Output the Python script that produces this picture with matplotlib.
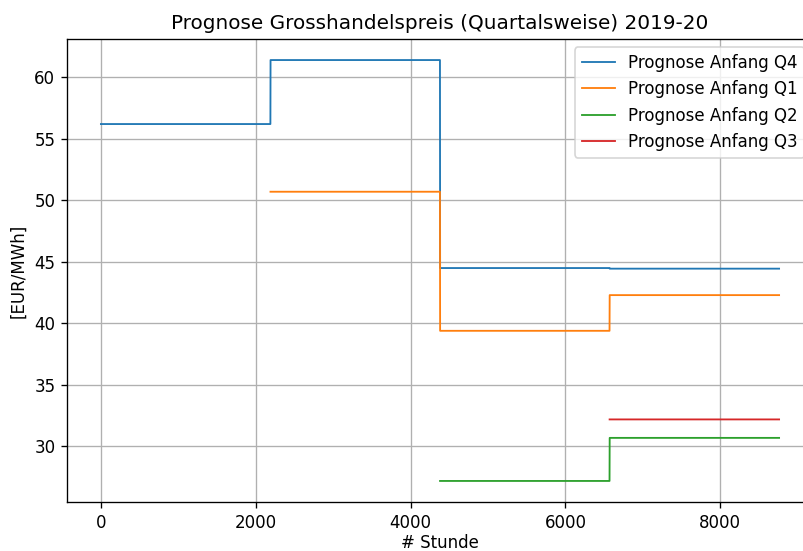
import numpy as np
import matplotlib
matplotlib.use("Agg")
import matplotlib.pyplot as plt

# quarterly forecast prices [EUR/MWh], one value per quarter still ahead
hours_per_quarter = 2190
labels = ['Prognose Anfang Q4', 'Prognose Anfang Q1', 'Prognose Anfang Q2', 'Prognose Anfang Q3']
start_quarter = [0, 1, 2, 3]
prices_q4 = [56.2, 61.4, 44.5, 44.45]
prices_q1 = [50.7, 39.4, 42.3]
prices_q2 = [27.2, 30.7]
prices_q3 = [32.2]
series = [prices_q4, prices_q1, prices_q2, prices_q3]

dpi = 120
fig = plt.figure(figsize=(803 / dpi, 551 / dpi), dpi=dpi)
ax = fig.add_axes([67 / 803, 49 / 551, 746 / 803, 463 / 551])

for label, start, prices in zip(labels, start_quarter, series):
    hours = np.arange(start * hours_per_quarter, 4 * hours_per_quarter)
    values = np.repeat(prices, hours_per_quarter)
    ax.plot(hours, values, label=label, linewidth=1.1)

ax.set_title('Prognose Grosshandelspreis (Quartalsweise) 2019-20')
ax.set_xlabel('# Stunde', labelpad=1.5)
ax.set_ylabel('[EUR/MWh]')
ax.grid(True)
ax.legend(loc='upper right')

fig.savefig('out.png', dpi=dpi)
